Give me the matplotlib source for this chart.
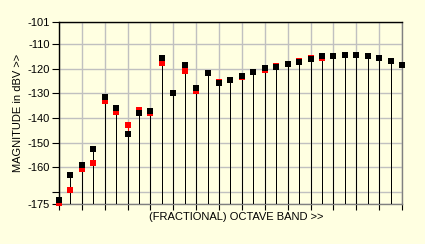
import matplotlib
matplotlib.use("Agg")
import matplotlib.pyplot as plt

# band index 0..30
bands = list(range(31))

# black series (front)
level_a = [-173.2, -163.3, -159.2, -152.7, -131.4, -135.9, -146.5, -138.2,
           -137.3, -115.8, -129.7, -118.6, -127.7, -121.9, -125.9, -124.4,
           -122.9, -121.3, -119.5, -119.3, -118.0, -117.4, -116.2, -115.0,
           -115.0, -114.5, -114.5, -115.0, -115.8, -117.0, -118.6]

# red series (behind)
level_b = [-174.5, -169.4, -160.9, -158.4, -133.2, -137.4, -142.8, -136.6,
           -138.2, -117.7, -129.7, -121.0, -129.1, -121.9, -125.4, -124.4,
           -123.3, -121.5, -120.6, -118.9, -118.1, -116.9, -115.5, -115.6,
           -115.0, -114.5, -114.5, -114.8, -115.8, -117.0, -118.6]

ytick_vals = [-101, -110, -120, -130, -140, -150, -160, -170, -175]
ytick_text = ["-101", "-110", "-120", "-130", "-140", "-150", "-160", "", "-175"]

bg = "#FFFFE1"
plt.rcParams["font.family"] = ["Liberation Sans", "DejaVu Sans"]
plt.rcParams["axes.unicode_minus"] = False

fig = plt.figure(figsize=(4.25, 2.44), dpi=100, facecolor=bg)
ax = fig.add_axes([59/425, 1 - 204/244, (402 - 59)/425, (204 - 22)/244])
ax.set_facecolor(bg)

bottom = -175
# red stems + markers first, black on top (no antialiasing so red stays hidden)
ax.vlines(bands, bottom, level_b, colors="red", linewidth=0.72,
          antialiased=False, zorder=3)
ax.vlines(bands, bottom, level_a, colors="black", linewidth=0.72,
          antialiased=False, zorder=4)
ax.plot(bands, level_b, "s", color="red", markersize=4.4, markeredgewidth=0,
        zorder=5, clip_on=False)
ax.plot(bands, level_a, "s", color="black", markersize=4.4, markeredgewidth=0,
        zorder=6, clip_on=False)

ax.set_xlim(0, 30)
ax.set_ylim(-175, -101)
ax.set_xticks(range(0, 31, 2))
ax.set_xticklabels([])
ax.set_yticks(ytick_vals)
ax.set_yticklabels(ytick_text, fontsize=8)

ax.grid(True, color="#C0C0C0", linewidth=1.0, zorder=0)
ax.set_axisbelow(True)
ax.tick_params(axis="y", length=5, width=0.8, pad=1.5, colors="black")
ax.tick_params(axis="x", length=4, width=0.8, colors="black")

for side in ["left", "top"]:
    ax.spines[side].set_color("black")
    ax.spines[side].set_linewidth(1.0)
for side in ["right", "bottom"]:
    ax.spines[side].set_color("#808080")
    ax.spines[side].set_linewidth(1.0)

ax.set_xlabel("(FRACTIONAL) OCTAVE BAND >>", fontsize=8)
ax.xaxis.set_label_coords(0.516, -0.045)
ax.xaxis.label.set_verticalalignment("top")
ax.set_ylabel("MAGNITUDE in dBV >>", fontsize=8, labelpad=3)

fig.savefig("out.png", dpi=100, facecolor=bg)
